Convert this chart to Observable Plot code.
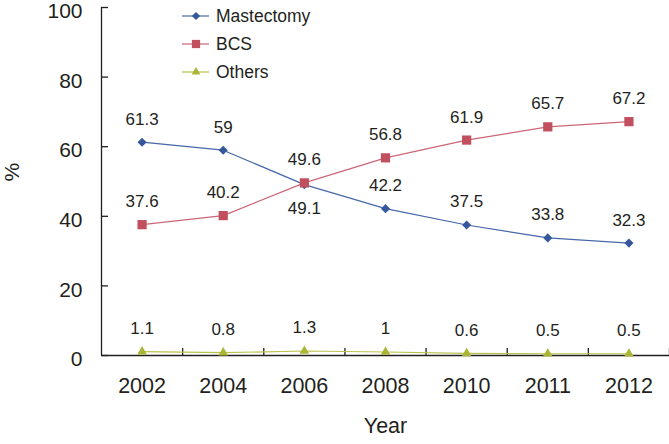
<!DOCTYPE html>
<html>
<head>
<meta charset="utf-8">
<script src="https://cdn.jsdelivr.net/npm/d3@7"></script>
<script src="https://cdn.jsdelivr.net/npm/@observablehq/plot@0.6"></script>
<style>
  html, body { margin: 0; padding: 0; background: #fff; }
  #chart svg { display: block; }
</style>
</head>
<body>
<div id="chart"></div>
<script>
const years = ["2002", "2004", "2006", "2008", "2010", "2011", "2012"];
const mastectomy = [61.3, 59, 49.1, 42.2, 37.5, 33.8, 32.3];
const bcs = [37.6, 40.2, 49.6, 56.8, 61.9, 65.7, 67.2];
const others = [1.1, 0.8, 1.3, 1, 0.6, 0.5, 0.5];
const yTicks = [0, 20, 40, 60, 80, 100];
const seriesNames = ["Mastectomy", "BCS", "Others"];

const colors = { Mastectomy: "#35589d", BCS: "#c24f5d", Others: "#aab533" };
const lineColors = { Mastectomy: "#4668aa", BCS: "#cc6676", Others: "#b9c24e" };
const symbols = { Mastectomy: "diamond2", BCS: "square", Others: "triangle" };
const radii = { Mastectomy: 4.1, BCS: 5.2, Others: 3.6 };

const rows = [];
[[seriesNames[0], mastectomy], [seriesNames[1], bcs], [seriesNames[2], others]].forEach(([name, vals]) => {
  vals.forEach((v, i) => rows.push({ series: name, i, year: years[i], value: v }));
});

const idx = years.map((_, i) => i);
const boundaries = years.map((_, i) => i + 0.5);
const font = "'Liberation Sans', Arial, Helvetica, sans-serif";

const marks = [
  Plot.ruleY([0], { stroke: "#231f20", strokeWidth: 1.3 }),
  Plot.ruleX([-0.5], { stroke: "#231f20", strokeWidth: 1.3 }),
  Plot.axisY({ ticks: yTicks, tickSize: -7, tickFormat: () => "", stroke: "#231f20", strokeWidth: 1.3, label: null }),
  Plot.axisY({ ticks: yTicks, tickSize: 0, tickPadding: 19, dy: 4, fontSize: 21, fill: "#231f20", label: null }),
  Plot.axisX({ ticks: boundaries, tickSize: -7, tickFormat: () => "", stroke: "#231f20", strokeWidth: 1.3, label: null }),
  Plot.axisX({ ticks: idx, tickSize: 0, tickPadding: 22, tickFormat: (d) => years[d], fontSize: 21.5, fill: "#231f20", label: null }),
  Plot.text(["%"], { frameAnchor: "left", dx: -89, rotate: -90, fontSize: 21, fill: "#231f20" }),
  Plot.text(["Year"], { frameAnchor: "bottom", dy: 77, fontSize: 21.5, fill: "#231f20" })
];

for (const s of seriesNames) {
  const data = rows.filter((d) => d.series === s);
  marks.push(Plot.line(data, { x: "i", y: "value", stroke: lineColors[s], strokeWidth: 1.2 }));
  marks.push(Plot.dot(data, { x: "i", y: "value", symbol: symbols[s], r: radii[s], fill: colors[s], stroke: "none" }));
  const below = (d) => s === "Mastectomy" && d.year === "2006";
  marks.push(Plot.text(data.filter((d) => !below(d)), { x: "i", y: "value", text: (d) => String(d.value), dy: -23, fontSize: 17, fill: "#231f20" }));
  marks.push(Plot.text(data.filter(below), { x: "i", y: "value", text: (d) => String(d.value), dy: 24, fontSize: 17, fill: "#231f20" }));
}

const chart = Plot.plot({
  width: 669,
  height: 444,
  marginLeft: 101,
  marginRight: 0,
  marginTop: 7,
  marginBottom: 89,
  style: { fontFamily: font, background: "#fff", color: "#231f20" },
  x: { type: "linear", domain: [-0.5, 6.5], axis: null },
  y: { domain: [0, 100], axis: null },
  marks
});

// legend (inside the plot area, upper middle-left)
const svg = d3.select(chart);
const lg = svg.append("g").attr("font-family", font).attr("font-size", 17.5).attr("text-anchor", "start");
const d3sym = { Mastectomy: d3.symbolDiamond2, BCS: d3.symbolSquare, Others: d3.symbolTriangle };
seriesNames.forEach((s, k) => {
  const y = 16 + k * 28;
  const g = lg.append("g").attr("transform", `translate(0,${y})`);
  g.append("line").attr("x1", 182).attr("x2", 209).attr("y1", 0).attr("y2", 0)
    .attr("stroke", lineColors[s]).attr("stroke-width", 1.2);
  g.append("path").attr("transform", "translate(196,0)")
    .attr("d", d3.symbol(d3sym[s], Math.PI * radii[s] * radii[s] * 0.8)())
    .attr("fill", colors[s]);
  g.append("text").attr("x", 216).attr("y", 0).attr("dy", "0.35em")
    .attr("text-anchor", "start").attr("fill", "#231f20").text(s);
});

document.getElementById("chart").appendChild(chart);
</script>
</body>
</html>
